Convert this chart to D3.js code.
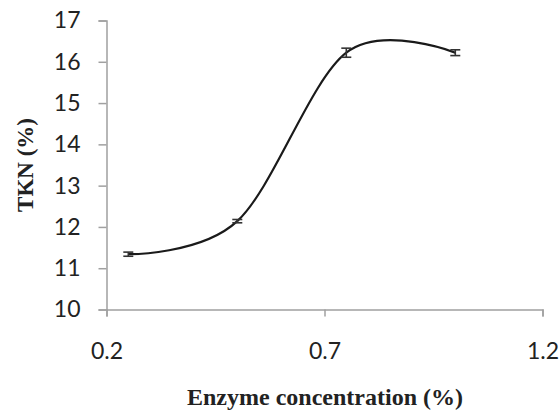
<!DOCTYPE html>
<html><head><meta charset="utf-8">
<script src="https://cdn.jsdelivr.net/npm/d3@7"></script>
<style>body{margin:0;background:#fff}svg{display:block}</style>
</head><body>
<script>
const concentrations = [0.25, 0.5, 0.75, 1.0];
const tknValues = [11.34, 12.14, 16.22, 16.22];
const tknErrors = [0.05, 0.04, 0.11, 0.07];
const xTicks = [0.2, 0.7, 1.2];
const yTicks = [10, 11, 12, 13, 14, 15, 16, 17];
const xTitle = "Enzyme concentration (%)";
const yTitle = "TKN (%)";

const W = 560, H = 414;
const svg = d3.select("body").append("svg").attr("width", W).attr("height", H);
const x = d3.scaleLinear().domain([0.2, 1.2]).range([106.5, 542.5]);
const y = d3.scaleLinear().domain([10, 17]).range([309.5, 20.5]);
const axisColor = "#a0a0a0";
const tickFont = "Lato, 'Open Sans', sans-serif";

const gx = svg.append("g").attr("transform", `translate(0,${y(10)})`)
  .call(d3.axisBottom(x).tickValues(xTicks).tickSize(7).tickPadding(26).tickFormat(d3.format(".1f")));
const gy = svg.append("g").attr("transform", `translate(${x(0.2)},0)`)
  .call(d3.axisLeft(y).tickValues(yTicks).tickSize(8).tickPadding(18).tickFormat(d3.format("d")));
[gx, gy].forEach(g => {
  g.select(".domain").attr("stroke", axisColor).attr("stroke-width", 1.5);
  g.selectAll(".tick line").attr("stroke", axisColor).attr("stroke-width", 1.5);
  g.selectAll(".tick text").attr("fill", "#222").style("font-family", tickFont).style("font-size", "23px");
});

const pts = concentrations.map((c, i) => [x(c), y(tknValues[i])]);
svg.append("path").attr("d", d3.line().curve(d3.curveCardinal.tension(0))(pts))
  .attr("fill", "none").attr("stroke", "#1a1a1a").attr("stroke-width", 2.2);

const eb = svg.append("g").attr("stroke", "#333").attr("stroke-width", 1.6);
concentrations.forEach((c, i) => {
  const cx = x(c), y1 = y(tknValues[i] + tknErrors[i]), y2 = y(tknValues[i] - tknErrors[i]);
  eb.append("line").attr("x1", cx).attr("x2", cx).attr("y1", y1).attr("y2", y2);
  eb.append("line").attr("x1", cx - 5).attr("x2", cx + 5).attr("y1", y1).attr("y2", y1);
  eb.append("line").attr("x1", cx - 5).attr("x2", cx + 5).attr("y1", y2).attr("y2", y2);
});

svg.append("text").attr("x", 325).attr("y", 405).attr("text-anchor", "middle")
  .style("font-family", "'Liberation Serif', 'Times New Roman', serif").style("font-weight", "bold")
  .style("font-size", "24px").attr("fill", "#222").text(xTitle);
svg.append("text").attr("transform", `translate(33,${(y(10) + y(17)) / 2}) rotate(-90)`)
  .attr("text-anchor", "middle")
  .style("font-family", "'Liberation Serif', 'Times New Roman', serif").style("font-weight", "bold")
  .style("font-size", "23px").attr("fill", "#222").text(yTitle);
</script>
</body></html>
